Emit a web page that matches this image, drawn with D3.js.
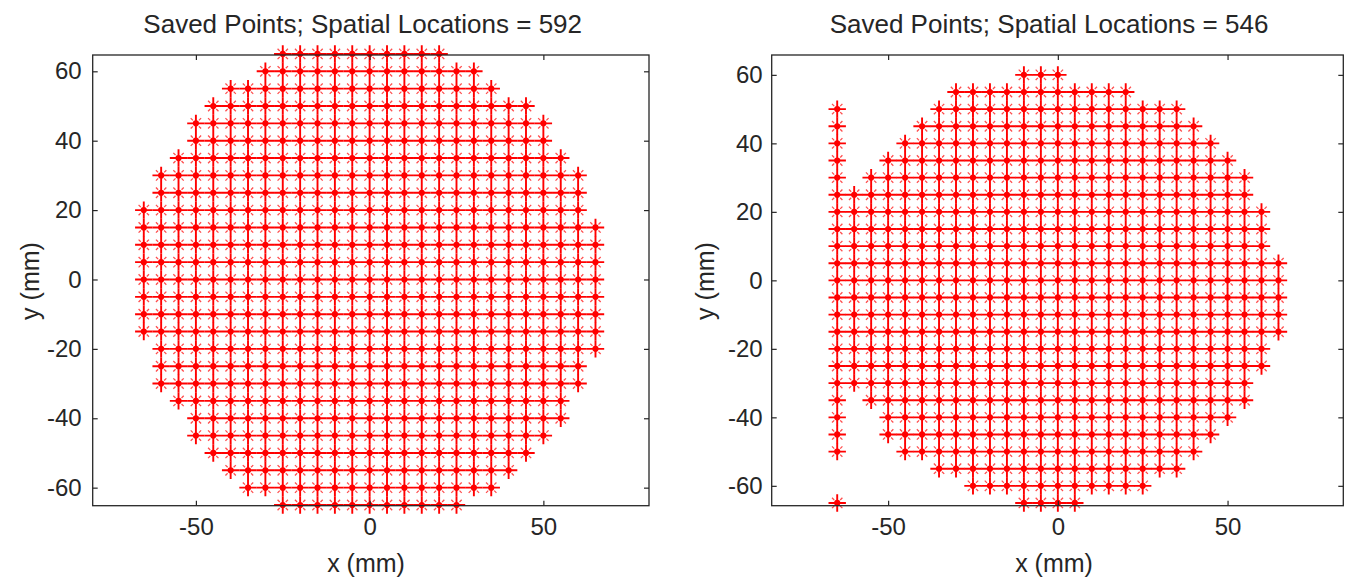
<!DOCTYPE html>
<html>
<head>
<meta charset="utf-8">
<script src="https://cdn.jsdelivr.net/npm/d3@7"></script>
<style>
  body { margin: 0; background: #fff; }
  svg { display: block; font-family: "Liberation Sans", Arial, sans-serif; }
  .tick text { fill: #262626; }
</style>
</head>
<body>
<svg id="chart" width="1346" height="577"></svg>
<script>
// grid rows: [y, first x, last x], points every 5 mm
const gridStep = 5;
const leftRows = [
  [65,-25,20],[60,-30,30],[55,-40,35],[50,-45,45],[45,-50,50],[40,-50,50],
  [35,-55,55],[30,-60,60],[25,-60,60],[20,-65,60],[15,-65,65],[10,-65,65],
  [5,-65,65],[0,-65,65],[-5,-65,65],[-10,-65,65],[-15,-65,65],[-20,-60,65],
  [-25,-60,60],[-30,-60,60],[-35,-55,55],[-40,-50,55],[-45,-50,50],
  [-50,-45,45],[-55,-40,40],[-60,-35,35],[-65,-25,25]
];
const rightRows = [
  [60,-10,0],[55,-30,20],
  [50,-65,-65],[50,-35,35],[45,-65,-65],[45,-40,40],[40,-65,-65],[40,-45,45],
  [35,-65,-65],[35,-50,50],[30,-65,-65],[30,-55,55],
  [25,-65,55],[20,-65,60],[15,-65,60],[10,-65,60],[5,-65,65],[0,-65,65],
  [-5,-65,65],[-10,-65,65],[-15,-65,65],[-20,-65,60],[-25,-65,60],[-30,-65,55],
  [-35,-65,-65],[-35,-55,55],[-40,-65,-65],[-40,-50,50],[-45,-65,-65],[-45,-50,45],
  [-50,-65,-65],[-50,-45,40],[-55,-35,35],[-60,-25,25],
  [-65,-65,-65],[-65,-10,5]
];
const titles = ["Saved Points; Spatial Locations = 592", "Saved Points; Spatial Locations = 546"];
const xTicks = [-50, 0, 50];
const yTicks = [-60, -40, -20, 0, 20, 40, 60];
const xLabel = "x (mm)";
const yLabel = "y (mm)";

const panels = [
  {rows: leftRows, title: titles[0], x0: 92.7, x1: 649, y0: 55, y1: 505.7,
   xDomain: [-79.7, 80.4], yDomain: [-65.2, 64.7], titleX: 362.7, xLabelX: 366, yLabelX: 39, yPad: 11},
  {rows: rightRows, title: titles[1], x0: 771.7, x1: 1343.3, y0: 55, y1: 505.7,
   xDomain: [-84.3, 84.1], yDomain: [-65.8, 65.8], titleX: 1049, xLabelX: 1054, yLabelX: 714, yPad: 9}
];

const svg = d3.select("#chart");

function expandRows(rows){
  let pts = [];
  rows.forEach(([y, a, b]) => {
    for (let x = a; x <= b; x += gridStep) pts.push({x: x, y: y});
  });
  return pts;
}

panels.forEach(p => {
  const xScale = d3.scaleLinear().domain(p.xDomain).range([p.x0, p.x1]);
  const yScale = d3.scaleLinear().domain(p.yDomain).range([p.y1, p.y0]);
  const pts = expandRows(p.rows);

  // markers (asterisks), not clipped, drawn under the box
  let m = svg.append("g").selectAll("g").data(pts).enter().append("g")
      .attr("transform", d => `translate(${xScale(d.x)},${yScale(d.y)})`);
  m.append("path")
      .attr("d", "M-8.7,0H8.7M0,-8.7V8.7")
      .attr("stroke", "#ff0000").attr("stroke-width", 1.9).attr("fill", "none");
  m.append("path")
      .attr("d", "M-5.2,-5.2L-3,-3M5.2,-5.2L3,-3M-5.2,5.2L-3,3M5.2,5.2L3,3")
      .attr("stroke", "#ff0000").attr("stroke-width", 1.3).attr("stroke-opacity", 0.7).attr("fill", "none");
  m.append("circle").attr("r", 3.1).attr("fill", "#ff0000");

  const fmt = d => String(d);
  let gb = svg.append("g").attr("transform", `translate(0,${p.y1})`)
      .call(d3.axisBottom(xScale).tickValues(xTicks).tickFormat(fmt).tickSize(-5).tickPadding(12.6));
  let gt = svg.append("g").attr("transform", `translate(0,${p.y0})`)
      .call(d3.axisTop(xScale).tickValues(xTicks).tickFormat("").tickSize(-5));
  let gl = svg.append("g").attr("transform", `translate(${p.x0},0)`)
      .call(d3.axisLeft(yScale).tickValues(yTicks).tickFormat(fmt).tickSize(-5).tickPadding(p.yPad));
  let gr = svg.append("g").attr("transform", `translate(${p.x1},0)`)
      .call(d3.axisRight(yScale).tickValues(yTicks).tickFormat("").tickSize(-5));
  [gb, gt, gl, gr].forEach(g => {
    g.select(".domain").remove();
    g.selectAll(".tick line").attr("stroke", "#262626").attr("stroke-width", 1.2);
    g.selectAll(".tick text").attr("font-size", 24).attr("font-family", "Liberation Sans, Arial, sans-serif");
  });

  svg.append("rect")
      .attr("x", p.x0).attr("y", p.y0)
      .attr("width", p.x1 - p.x0).attr("height", p.y1 - p.y0)
      .attr("fill", "none").attr("stroke", "#262626").attr("stroke-width", 1.3);

  svg.append("text").attr("x", p.titleX).attr("y", 33)
      .attr("text-anchor", "middle").attr("font-size", 26).attr("fill", "#262626")
      .text(p.title);
  svg.append("text").attr("x", p.xLabelX).attr("y", 572)
      .attr("text-anchor", "middle").attr("font-size", 25).attr("fill", "#262626")
      .text(xLabel);
  svg.append("text")
      .attr("transform", `translate(${p.yLabelX},281) rotate(-90)`)
      .attr("text-anchor", "middle").attr("font-size", 25).attr("fill", "#262626")
      .text(yLabel);
});
</script>
</body>
</html>
